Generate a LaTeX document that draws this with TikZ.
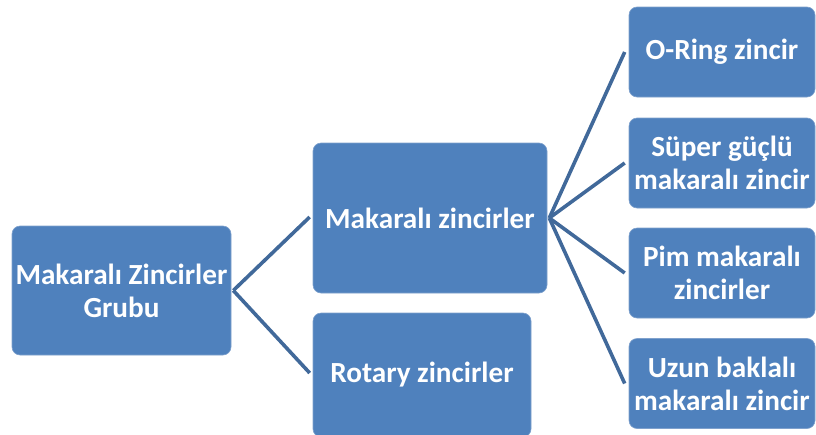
\documentclass[tikz,border=0pt]{standalone}
\usepackage{fontspec}
\setmainfont{Carlito}
\definecolor{boxfill}{HTML}{4F81BD}
\definecolor{boxedge}{HTML}{7FA1CD}
\definecolor{linkc}{HTML}{41699A}
\begin{document}
\begin{tikzpicture}[x=1pt,y=-1pt,
  box/.style={fill=boxfill, draw=boxedge, line width=0.6pt, rounded corners=8pt,
    text=white, font=\bfseries\fontsize{29.2}{33}\selectfont, align=center, inner sep=0pt},
  link/.style={draw=linkc, line width=3.6pt}]
\useasboundingbox (0,0) rectangle (816,434);
\begin{scope}
\clip (0,0) rectangle (816,434);
\node[box, minimum width=219pt, minimum height=129pt] (a) at (121.5,290.5) {Makaralı Zincirler\\Grubu};
\node[box, minimum width=234pt, minimum height=150pt] (b) at (430,218) {Makaralı zincirler};
\node[box, minimum width=218pt, minimum height=124pt] (c) at (422,375) {Rotary zincirler};
\node[box, minimum width=186pt, minimum height=90pt] (r1) at (722,52) {O-Ring zincir};
\node[box, minimum width=186pt, minimum height=90pt] (r2) at (722,163) {Süper güçlü\\makaralı zincir};
\node[box, minimum width=186pt, minimum height=90pt] (r3) at (722,273) {Pim makaralı\\zincirler};
\node[box, minimum width=186pt, minimum height=90pt] (r4) at (722,383.5) {Uzun baklalı\\makaralı zincir};
\end{scope}
\coordinate (ao) at ([xshift=2pt]a.east);
\coordinate (bo) at ([xshift=2pt]b.east);
\draw[link] (ao) -- ([xshift=-3pt]b.west |- 0,217);
\draw[link] (ao) -- ([xshift=-3pt]c.west |- 0,373);
\draw[link] (bo) -- ([xshift=-4pt]r1.west);
\draw[link] (bo) -- ([xshift=-4pt]r2.west);
\draw[link] (bo) -- ([xshift=-4pt]r3.west);
\draw[link] (bo) -- ([xshift=-4pt]r4.west);
\end{tikzpicture}
\end{document}
